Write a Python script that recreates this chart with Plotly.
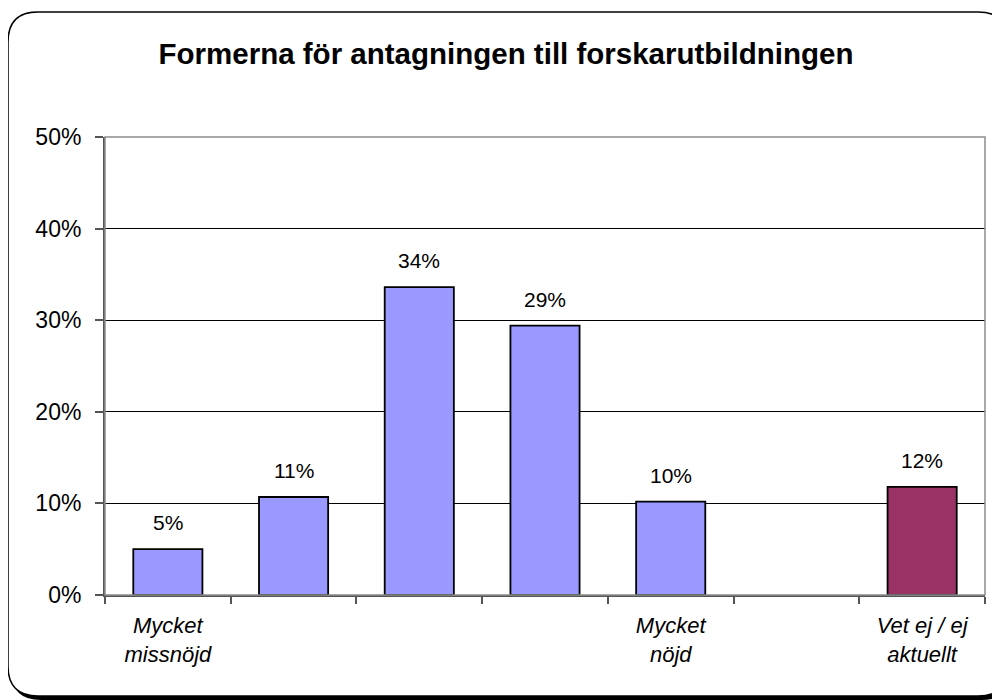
import plotly.graph_objects as go

title = "Formerna för antagningen till forskarutbildningen"
categories = ["c1", "c2", "c3", "c4", "c5", "c6", "c7"]
tick_labels = ["Mycket<br>missnöjd", "", "", "", "Mycket<br>nöjd", "", "Vet ej / ej<br>aktuellt"]
values = [5.0, 10.7, 33.6, 29.4, 10.2, None, 11.8]
bar_colors = ["#9999FF", "#9999FF", "#9999FF", "#9999FF", "#9999FF", "#9999FF", "#993366"]
y_ticks = [0, 10, 20, 30, 40, 50]
y_tick_labels = ["0%", "10%", "20%", "30%", "40%", "50%"]

W, H = 1000, 700
OFF = 8  # page body margin
# plot area in screen pixels
SL, SR, ST, SB = 105, 985, 137, 595
L, R, T, B = SL - OFF, SR - OFF, ST - OFF, SB - OFF


def px(x):
    return (x - OFF - L) / (R - L)


def py(y):
    return (B - (y - OFF)) / (B - T)


def rrect(x0, y0, x1, y1, r):
    return (
        f"M {px(x0 + r)} {py(y0)} L {px(x1 - r)} {py(y0)} "
        f"Q {px(x1)} {py(y0)} {px(x1)} {py(y0 + r)} "
        f"L {px(x1)} {py(y1 - r)} Q {px(x1)} {py(y1)} {px(x1 - r)} {py(y1)} "
        f"L {px(x0 + r)} {py(y1)} Q {px(x0)} {py(y1)} {px(x0)} {py(y1 - r)} "
        f"L {px(x0)} {py(y0 + r)} Q {px(x0)} {py(y0)} {px(x0 + r)} {py(y0)} Z"
    )


FONT = "Liberation Sans, Arial"

fig = go.Figure()
fig.add_trace(go.Bar(
    x=categories,
    y=values,
    marker=dict(color=bar_colors, line=dict(color="black", width=1.8)),
    width=0.55,
    hoverinfo="skip",
))

for c, v in zip(categories, values):
    if v is None:
        continue
    fig.add_annotation(
        x=c, y=v, text=f"{round(v)}%", showarrow=False,
        yanchor="bottom", yshift=13,
        font=dict(family=FONT, size=21, color="black"),
    )

shapes = [
    # shadow
    dict(type="path", xref="paper", yref="paper", path=rrect(11, 15, 1012, 700, 30),
         fillcolor="black", line=dict(width=0), layer="below"),
    # frame
    dict(type="path", xref="paper", yref="paper", path=rrect(8, 12, 1008, 696, 30),
         fillcolor="white", line=dict(color="black", width=1.5), layer="below"),
    # plot area border (top/right gray)
    dict(type="rect", xref="paper", yref="paper", x0=0, y0=0, x1=1, y1=1,
         line=dict(color="#8c8c8c", width=1.5), layer="above"),
]

fig.update_layout(
    width=W, height=H,
    margin=dict(l=L, r=W - R, t=T, b=H - B, pad=0),
    paper_bgcolor="white",
    plot_bgcolor="rgba(0,0,0,0)",
    showlegend=False,
    shapes=shapes,
    title=dict(text=f"<b>{title}</b>", x=(506 - OFF) / W, xref="container", xanchor="center",
               y=1 - (54 - OFF) / H, yanchor="middle",
               font=dict(family=FONT, size=29.5, color="black")),
    font=dict(family=FONT, color="black"),
    xaxis=dict(
        type="category",
        categoryorder="array", categoryarray=categories,
        tickvals=categories,
        ticktext=[f"<i>{t}</i>" if t else "" for t in tick_labels],
        tickson="boundaries",
        ticks="outside", ticklen=7, tickcolor="#555555", tickwidth=1.5,
        showline=True, linecolor="#555555", linewidth=2,
        showgrid=False, zeroline=False,
        ticklabelstandoff=10,
        tickfont=dict(family=FONT, size=22, color="black"),
        range=[-0.5, 6.5],
    ),
    yaxis=dict(
        range=[0, 50],
        tickvals=y_ticks, ticktext=y_tick_labels,
        ticks="outside", ticklen=8, tickcolor="#555555", tickwidth=1.5,
        showline=True, linecolor="#555555", linewidth=2,
        showgrid=True, gridcolor="black", gridwidth=1,
        zeroline=False,
        ticklabelstandoff=9,
        tickfont=dict(family=FONT, size=23, color="black"),
    ),
    bargap=0.45,
)

fig.write_html("out.html")
